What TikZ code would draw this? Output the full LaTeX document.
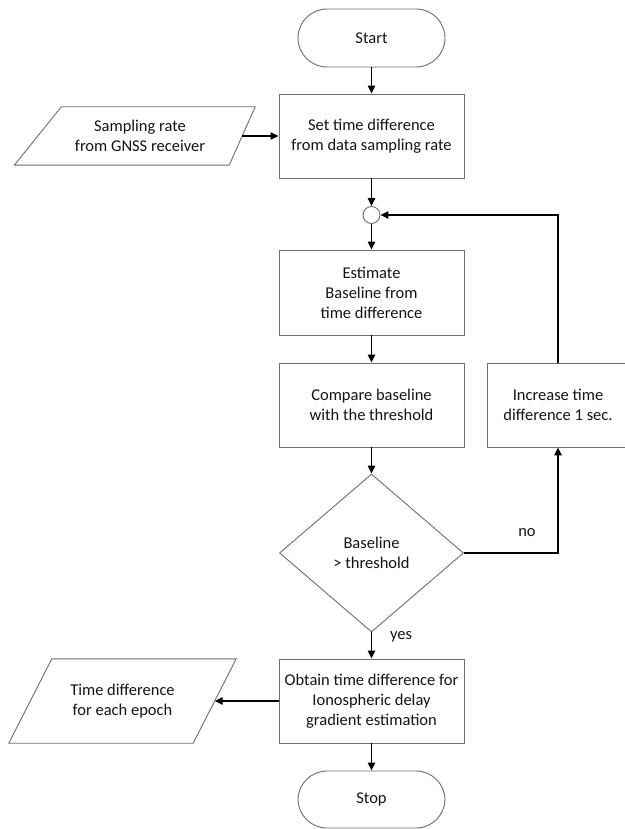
\documentclass[tikz,border=0pt]{standalone}
\usepackage{fontspec}
\setmainfont{Carlito}
\usetikzlibrary{arrows.meta,shapes.geometric}
\definecolor{boxgray}{RGB}{110,110,110}
\definecolor{txt}{RGB}{20,20,20}
\newcommand\flowfs{\fontsize{16.5}{20}\selectfont}
\begin{document}
\begin{tikzpicture}[x=1pt,y=-1pt,
  box/.style={draw=boxgray, line width=0.9pt, minimum width=185pt, minimum height=84pt, align=center, inner sep=0pt, font=\flowfs, text=txt},
  term/.style={draw=boxgray, line width=0.9pt, rounded corners=29pt, minimum width=147pt, minimum height=58pt, font=\flowfs, text=txt},
  iotext/.style={align=center, inner sep=0pt, font=\flowfs, text=txt},
  iobox/.style={draw=boxgray, line width=0.9pt},
  dec/.style={draw=boxgray, line width=0.9pt, diamond, minimum width=184pt, minimum height=158pt, inner sep=0pt, align=center, font=\flowfs, text=txt},
  arr/.style={draw=black, line width=1.3pt, -{Triangle[length=8pt,width=7.5pt]}},
  lbl/.style={font=\flowfs, text=txt, inner sep=0pt}]
\useasboundingbox (0,0) rectangle (624,829);
\fill[white] (0,0) rectangle (624,829);

\node[term] (start) at (371.5,38) {Start};
\node[box, minimum height=84pt] (set) at (371.5,136) {Set time difference\\from data sampling rate};
\node[iotext, minimum width=204pt, minimum height=58pt] (sr) at (140,136) {Sampling rate\\from GNSS receiver};
\draw[iobox] ([xshift=-23.5pt]sr.south west) -- ([xshift=23.5pt]sr.north west) -- ([xshift=13pt]sr.north east) -- ([xshift=-13pt]sr.south east) -- cycle;
\node[draw=boxgray, line width=0.9pt, circle, minimum size=17pt, inner sep=0pt] (junc) at (371.5,215) {};
\node[box, minimum height=85pt] (est) at (371.5,292.5) {Estimate\\Baseline from\\time difference};
\node[box] (cmp) at (371.5,405) {Compare baseline\\with the threshold};
\node[box, minimum width=142pt] (inc) at (558,405) {Increase time\\difference 1 sec.};
\node[dec] (dec) at (371.5,553) {Baseline\\{>} threshold};
\node[box] (obt) at (371.5,701) {Obtain time difference for\\Ionospheric delay\\gradient estimation};
\node[iotext, minimum width=184pt, minimum height=84pt] (td) at (122.5,701) {Time difference\\for each epoch};
\draw[iobox] ([xshift=-21.5pt]td.south west) -- ([xshift=21.5pt]td.north west) -- ([xshift=21.5pt]td.north east) -- ([xshift=-21.5pt]td.south east) -- cycle;
\node[term, minimum height=57pt] (stop) at (371.5,799.5) {Stop};

\draw[arr] (start) -- (set);
\draw[arr] (sr.east) -- (set.west);
\draw[arr] (set) -- (junc);
\draw[arr] (junc) -- (est);
\draw[arr] (est) -- (cmp);
\draw[arr] (cmp) -- (dec.north);
\draw[arr] (dec.east) -| (inc.south);
\draw[arr] (inc.north) |- (junc.east);
\draw[arr] (dec.south) -- (obt.north);
\draw[arr] (obt.west) -- (td.east);
\draw[arr] (obt) -- (stop);
\node[lbl] (no) at (527,533) {no};
\node[lbl] (yes) at (401,637) {yes};
\end{tikzpicture}
\end{document}
